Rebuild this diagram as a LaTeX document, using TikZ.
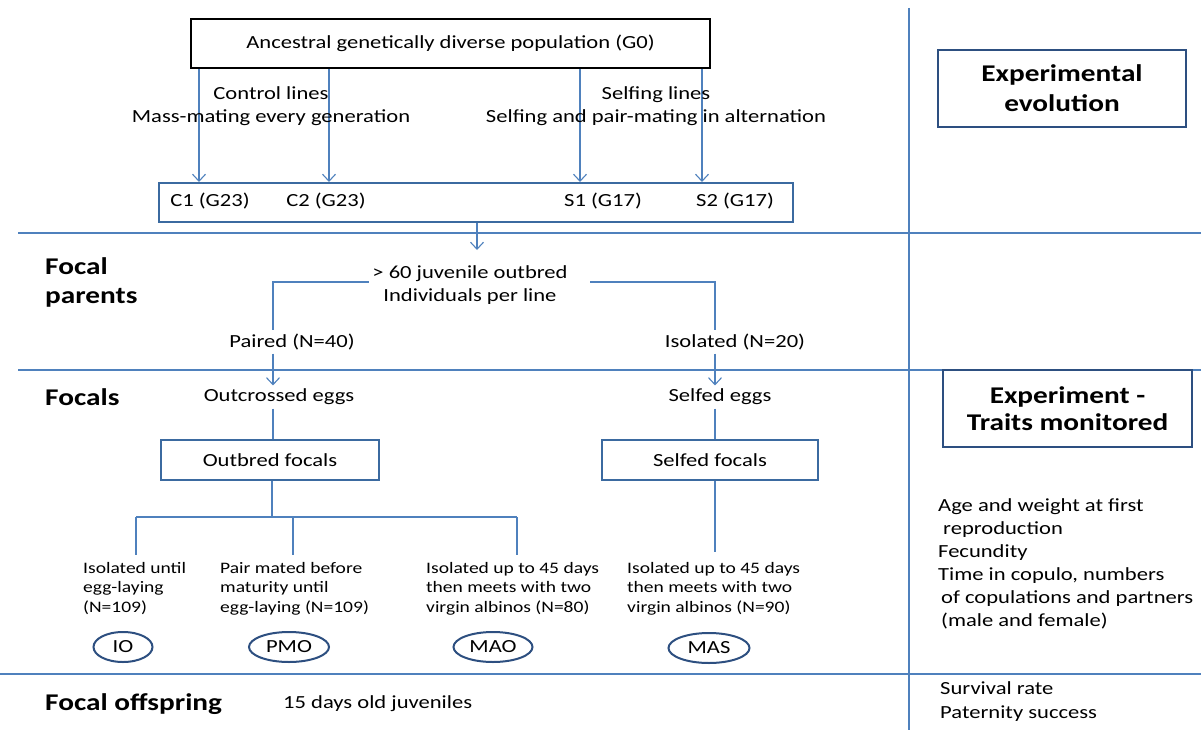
\documentclass[tikz,border=0pt]{standalone}
\usepackage{fontspec}
\setmainfont{Carlito}[FakeStretch=1.22]
\usetikzlibrary{arrows.meta,shapes.geometric}
\usepackage{xcolor}
\definecolor{b1}{HTML}{4F81BD}
\definecolor{b2}{HTML}{3B6AA0}
\definecolor{b3}{HTML}{2D4F80}

\begin{document}
\begin{tikzpicture} [x=1pt, y=-1pt, font=\fontsize{18.5}{23}\selectfont,
	link/.style={draw=b1, line width=1.1pt},
	arr/.style={link, -{Straight Barb[length=7pt,width=13pt]}},
	box/.style={draw=b2, line width=2pt},
	small/.style={font=\fontsize{16}{19.5}\selectfont, align=left, anchor=north west, inner sep=0pt},
	head/.style={font=\bfseries\fontsize{24}{29}\selectfont, align=left, anchor=west, inner sep=0pt},
	oval/.style={ellipse, draw=b3, line width=2pt, minimum height=30pt, inner sep=1pt}]
\useasboundingbox (0,0) rectangle (1201,730);

% section lines:
\draw [link] (18,233) -- (1201,233);
\draw [link] (18,370) -- (1201,370);
\draw [link] (0,674) -- (1201,674);
\draw [link] (909,8) -- (909,730);

% ancestral population and the four lines:
\node [draw, line width=2pt, minimum width=519pt, minimum height=49pt] (G0) at (450.5,43.5)
	{Ancestral genetically diverse population (G0)};
\node [box, minimum width=634pt, minimum height=39pt] (lines) at (476,202.5) {};
\node (C1) at (210,201) {C1 (G23)};
\node (C2) at (326,201) {C2 (G23)};
\node (S1) at (603,201) {S1 (G17)};
\node (S2) at (735,201) {S2 (G17)};
\foreach \x in {199,329,580,702}
	\draw [arr] (G0.south -| \x,0) -- (lines.north -| \x,0);

\node [align=center] (ctrl) at (271,106) {Control lines\\Mass-mating every generation};
\node [align=center] (self) at (656,106) {Selfing lines\\Selfing and pair-mating in alternation};

% focal parents:
\node [head] (fp) at (45,282) {Focal\\parents};
\node [align=center] (pop) at (470,285) {> 60 juvenile outbred\\Individuals per line};
\coordinate (down) at (477,250);
\draw [arr] (lines.south -| down) -- (down);

\node (paired) at (292,342) {Paired (N=40)};
\node (isol) at (735,342) {Isolated (N=20)};
\coordinate (lb) at (273,282);
\coordinate (rb) at (715,282);
\draw [link] (pop.west |- lb) -- (lb) -- (paired.north -| lb);
\draw [link] (590,282) -- (rb) -- (isol.north -| rb);

% focals:
\node [head] (foc) at (45,397) {Focals};
\node (outegg) at (279,397) {Outcrossed eggs};
\node (selfegg) at (720,397) {Selfed eggs};
\draw [arr] (paired.south -| lb) -- (outegg.north -| lb);
\draw [arr] (isol.south -| rb) -- (selfegg.north -| rb);

\node [box, minimum width=218pt, minimum height=40pt] (outf) at (270,460) {Outbred focals};
\node [box, minimum width=216pt, minimum height=40pt] (selff) at (710,460) {Selfed focals};
\draw [link] (outegg.south -| lb) -- (outf.north -| lb);
\draw [link] (selfegg.south -| rb) -- (selff.north -| rb);

% treatments:
\coordinate (fork) at (272,517);
\draw [link] (outf.south -| fork) -- (fork);
\draw [link] (136,517) -- (517,517);
\foreach \x in {136,293,517}
	\draw [link] (\x,517) -- (\x,555);
\draw [link] (selff.south -| rb) -- (715,552);

\node [small] (io-t) at (83,562) {Isolated until\\egg-laying\\(N=109)};
\node [small] (pmo-t) at (220,562) {Pair mated before\\maturity until\\egg-laying (N=109)};
\node [small] (mao-t) at (426,562) {Isolated up to 45 days\\then meets with two\\virgin albinos (N=80)};
\node [small] (mas-t) at (627,562) {Isolated up to 45 days\\then meets with two\\virgin albinos (N=90)};

\node [oval, minimum width=59pt] (IO) at (123,647) {IO};
\node [oval, minimum width=80pt] (PMO) at (289,647) {PMO};
\node [oval, minimum width=79pt] (MAO) at (493,647) {MAO};
\node [oval, minimum width=81pt] (MAS) at (709,648) {MAS};

% focal offspring:
\node [head] (off) at (45,704) {Focal offspring};
\node [anchor=west, inner sep=0pt] (juv) at (283,704) {15 days old juveniles};

% right column:
\node [draw=b3, line width=2pt, minimum width=248pt, minimum height=77pt, align=center,
	font=\bfseries\fontsize{24}{30}\selectfont] (expevo) at (1062,88.5) {Experimental\\evolution};
\node [draw=b3, line width=2pt, minimum width=249pt, minimum height=77pt, align=center,
	font=\bfseries\fontsize{24}{27}\selectfont] (exptr) at (1067.5,408.5) {Experiment -\\Traits monitored};

\node [anchor=north west, align=left, inner sep=0pt] (traits) at (938,498)
	{Age and weight at first\\\hspace{5pt}reproduction\\Fecundity\\Time in copulo, numbers\\
	\hspace{3pt}of copulations and partners\\\hspace{3pt}(male and female)};
\node [anchor=north west, align=left, inner sep=0pt, font=\fontsize{18.5}{24}\selectfont] (surv) at (940,681)
	{Survival rate\\Paternity success};
\end{tikzpicture}
\end{document}
